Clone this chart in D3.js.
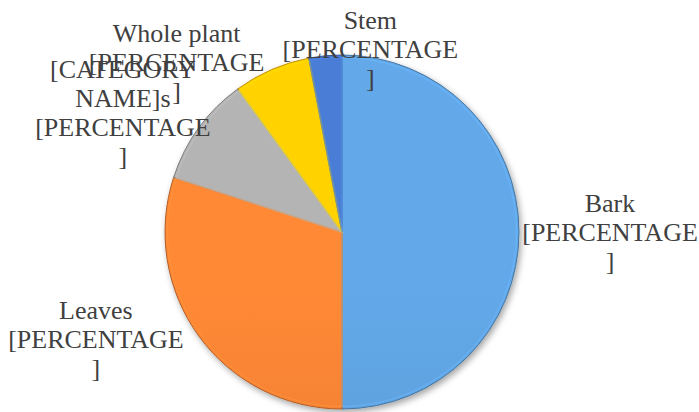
<!DOCTYPE html>
<html>
<head>
<meta charset="utf-8">
<script src="https://cdn.jsdelivr.net/npm/d3@7"></script>
<style>
  html, body { margin: 0; padding: 0; background: #fff; }
  svg { display: block; }
</style>
</head>
<body>
<svg id="chart" width="699" height="412"></svg>
<script>
// data
const categories = ['Bark', 'Leaves', '[CATEGORY NAME]s', 'Whole plant', 'Stem'];
const values = [50, 30, 10, 7, 3];
const colors = ['#5B9BD5', '#ED7D31', '#A5A5A5', '#FFC000', '#4472C4'];
const labelLines = [
    ['Bark', '[PERCENTAGE', ']'],
    ['Leaves', '[PERCENTAGE', ']'],
    ['[CATEGORY', 'NAME]s', '[PERCENTAGE', ']'],
    ['Whole plant', '[PERCENTAGE', ']'],
    ['Stem', '[PERCENTAGE', ']']
];
// nudges from the label arc, like excel moving labels around
const labelNudge = [[38, 1], [-60, -27], [-33, 17], [-74, 42], [50, 47]];

const svg = d3.select('#chart');
const cx = 342, cy = 232, radius = 177;
const lineH = 29;

const defs = svg.append('defs');

const shadow = defs.append('filter')
    .attr('id', 'shadow')
    .attr('x', '-20%').attr('y', '-20%')
    .attr('width', '140%').attr('height', '140%');
shadow.append('feDropShadow')
    .attr('dx', 2).attr('dy', 3)
    .attr('stdDeviation', 3)
    .attr('flood-color', '#000')
    .attr('flood-opacity', 0.35);

// a vertical gradient per slice, lighter at the top
colors.forEach((c, i) => {
    const g = defs.append('linearGradient')
        .attr('id', 'grad' + i)
        .attr('gradientUnits', 'userSpaceOnUse')
        .attr('x1', 0).attr('y1', cy - radius)
        .attr('x2', 0).attr('y2', cy + radius);
    g.append('stop').attr('offset', '0%').attr('stop-color', d3.color(c).brighter(0.25));
    g.append('stop').attr('offset', '100%').attr('stop-color', d3.color(c).darker(0.1));
});

const pie = d3.pie().sort(null).value(d => d)(values);
const arc = d3.arc().innerRadius(0).outerRadius(radius);
const labelArc = d3.arc().innerRadius(230).outerRadius(230);

const g = svg.append('g').attr('transform', `translate(${cx},${cy})`);

g.append('g')
    .attr('filter', 'url(#shadow)')
    .selectAll('path')
    .data(pie)
    .join('path')
    .attr('d', arc)
    .attr('fill', (d, i) => `url(#grad${i})`)
    .attr('stroke', (d, i) => d3.color(colors[i]).darker(0.8))
    .attr('stroke-width', 1)
    .attr('stroke-linejoin', 'round');

// light inner rim for the bevel look
g.append('g')
    .selectAll('path')
    .data(pie)
    .join('path')
    .attr('d', d3.arc().innerRadius(0).outerRadius(radius - 2.5))
    .attr('fill', 'none')
    .attr('stroke', (d, i) => d3.color(colors[i]).brighter(0.5))
    .attr('stroke-opacity', 0.5)
    .attr('stroke-width', 1.5);

const labels = g.append('g')
    .selectAll('text')
    .data(pie)
    .join('text')
    .attr('font-family', '"Liberation Serif", "Times New Roman", serif')
    .attr('font-size', 26)
    .attr('fill', '#404040')
    .attr('text-anchor', 'middle')
    .attr('transform', (d, i) => {
        const [x, y] = labelArc.centroid(d);
        return `translate(${x + labelNudge[i][0]},${y + labelNudge[i][1]})`;
    });

labels.each(function(d, i) {
    const lines = labelLines[i];
    const first = -(lines.length - 1) * lineH / 2 + 8;
    d3.select(this).selectAll('tspan')
        .data(lines)
        .join('tspan')
        .attr('x', 0)
        .attr('y', (t, j) => first + j * lineH)
        .text(t => t);
});
</script>
</body>
</html>
